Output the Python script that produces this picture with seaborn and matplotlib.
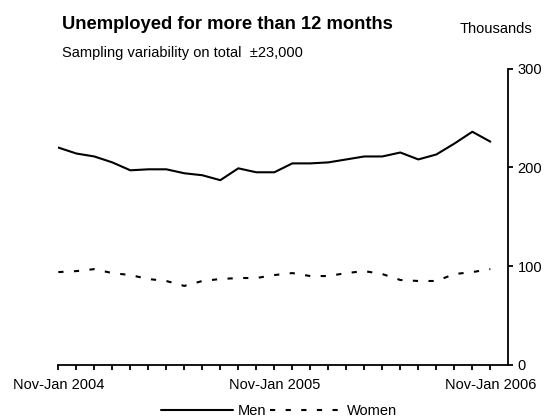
import numpy as np
import pandas as pd
import matplotlib

matplotlib.use('Agg')
import matplotlib.pyplot as plt
import seaborn as sns

# rolling three-month periods, thousands of people
periods = ['Nov-Jan 2004', 'Dec-Feb 2004', 'Jan-Mar 2004', 'Feb-Apr 2004', 'Mar-May 2004',
           'Apr-Jun 2004', 'May-Jul 2004', 'Jun-Aug 2004', 'Jul-Sep 2004', 'Aug-Oct 2004',
           'Sep-Nov 2004', 'Oct-Dec 2004', 'Nov-Jan 2005', 'Dec-Feb 2005', 'Jan-Mar 2005',
           'Feb-Apr 2005', 'Mar-May 2005', 'Apr-Jun 2005', 'May-Jul 2005', 'Jun-Aug 2005',
           'Jul-Sep 2005', 'Aug-Oct 2005', 'Sep-Nov 2005', 'Oct-Dec 2005', 'Nov-Jan 2006']
men = [220, 214, 211, 205, 197, 198, 198, 194, 192, 187, 199, 195, 195,
       204, 204, 205, 208, 211, 211, 215, 208, 213, 224, 236, 226]
women = [94, 95, 97, 93, 91, 87, 85, 80, 85, 87, 88, 88, 91,
         93, 90, 90, 93, 95, 92, 86, 85, 85, 92, 94, 97]
y_ticks = [0, 100, 200, 300]

n = len(periods)
df = pd.DataFrame({
    'pos': list(range(n)) * 2,
    'thousands': men + women,
    'sex': ['Men'] * n + ['Women'] * n,
})

sns.set_theme(style='white')
plt.rcParams['font.family'] = ['Liberation Sans', 'DejaVu Sans']
plt.rcParams['text.color'] = 'black'

fig = plt.figure(figsize=(5.46, 4.19), dpi=100)
ax = fig.add_axes([0.1068, 0.1289, 0.8242, 0.7076])

sns.lineplot(data=df, x='pos', y='thousands', hue='sex', style='sex',
             palette={'Men': 'black', 'Women': 'black'},
             dashes={'Men': '', 'Women': (2.5, 5)},
             linewidth=1.5, legend=False, ax=ax)

ax.set_xlim(0, n)
ax.set_ylim(0, 300)
ax.set_xticks(range(n))
ax.set_xticklabels([p if p.startswith('Nov-Jan') else '' for p in periods])
ax.yaxis.tick_right()
ax.set_yticks(y_ticks)
ax.set_xlabel('')
ax.set_ylabel('')
ax.grid(False)

for side in ['left', 'top']:
    ax.spines[side].set_visible(False)
for side in ['right', 'bottom']:
    ax.spines[side].set_color('black')
    ax.spines[side].set_linewidth(1.3)

ax.tick_params(axis='x', bottom=True, direction='out', length=3.6, width=1.3,
               color='black', pad=6, labelsize=10.5, labelcolor='black')
ax.tick_params(axis='y', right=True, left=False, labelright=True, labelleft=False,
               direction='out', length=3.6, width=1.3, color='black', pad=3,
               labelsize=10.5, labelcolor='black')

fig.legend(ax.get_lines()[:2], ['Men', 'Women'], loc='center',
           bbox_to_anchor=(279 / 546, 8 / 419), ncol=2, frameon=False,
           handlelength=5, handletextpad=0.3, columnspacing=0.25, fontsize=10.5)

fig.text(62 / 546, 1 - 29 / 419, 'Unemployed for more than 12 months',
         fontsize=13.2, fontweight='bold', va='baseline', ha='left', color='black')
fig.text(62 / 546, 1 - 57 / 419, 'Sampling variability on total  \u00b123,000',
         fontsize=10.5, va='baseline', ha='left', color='black')
fig.text(532 / 546, 1 - 33 / 419, 'Thousands', fontsize=10.5, va='baseline',
         ha='right', color='black')

fig.savefig('out.png', dpi=100)
plt.close()
